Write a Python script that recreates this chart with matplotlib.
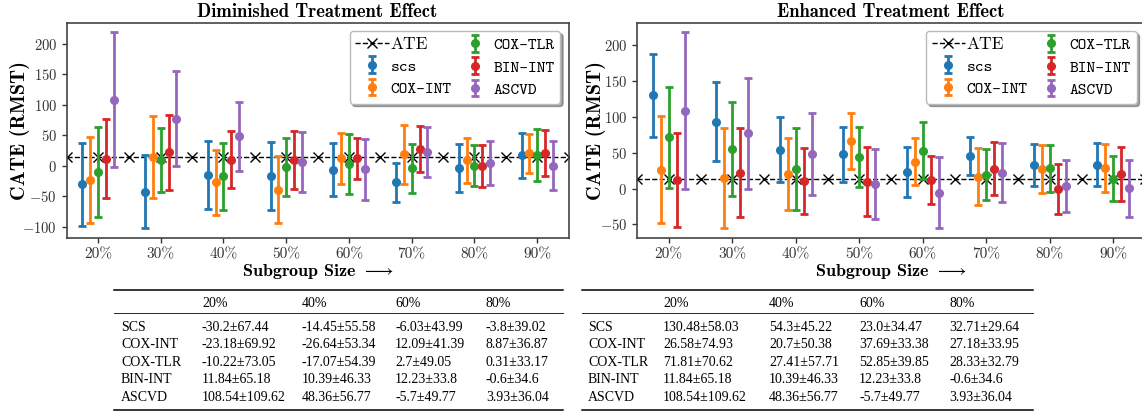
import numpy as np
import matplotlib
matplotlib.use("Agg")
import matplotlib.pyplot as plt
from matplotlib.lines import Line2D
from matplotlib.ticker import MultipleLocator

plt.rcParams['font.family'] = ['cmr10', 'DejaVu Serif']
plt.rcParams['mathtext.fontset'] = 'cm'
plt.rcParams['axes.formatter.use_mathtext'] = True
plt.rcParams['axes.unicode_minus'] = True

# ---------------- data ----------------
sizes = ['20%', '30%', '40%', '50%', '60%', '70%', '80%', '90%']
methods = ['scs', 'COX-INT', 'COX-TLR', 'BIN-INT', 'ASCVD']
table_names = ['SCS', 'COX-INT', 'COX-TLR', 'BIN-INT', 'ASCVD']
colors = ['#1f77b4', '#ff7f0e', '#2ca02c', '#d62728', '#9467bd']
ate_value = 14.0

# Diminished treatment effect
dim_scs_mean = [-30.2, -42.0, -14.45, -16.5, -6.03, -27.0, -3.8, 17.4]
dim_scs_std = [67.44, 60.0, 55.58, 55.0, 43.99, 31.5, 39.02, 36.5]
dim_coxint_mean = [-23.18, 14.0, -26.64, -39.0, 12.09, 19.0, 8.87, 20.5]
dim_coxint_std = [69.92, 67.0, 53.34, 55.0, 41.39, 48.0, 36.87, 32.0]
dim_coxtlr_mean = [-10.22, 10.0, -17.07, -2.0, 2.7, -4.0, 0.31, 17.5]
dim_coxtlr_std = [73.05, 52.0, 54.39, 48.0, 49.05, 40.5, 33.17, 42.5]
dim_binint_mean = [11.84, 22.0, 10.39, 9.5, 12.23, 28.0, -0.6, 20.5]
dim_binint_std = [65.18, 62.0, 46.33, 48.0, 33.8, 37.5, 34.6, 37.5]
dim_ascvd_mean = [108.54, 77.0, 48.36, 6.0, -5.7, 22.0, 3.93, 0.5]
dim_ascvd_std = [109.62, 78.0, 56.77, 49.0, 49.77, 41.0, 36.04, 39.7]

# Enhanced treatment effect
enh_scs_mean = [130.48, 93.5, 54.3, 48.0, 23.0, 45.5, 32.71, 33.5]
enh_scs_std = [58.03, 55.5, 45.22, 38.6, 34.47, 26.5, 29.64, 30.0]
enh_coxint_mean = [26.58, 15.0, 20.7, 66.5, 37.69, 16.5, 27.18, 29.0]
enh_coxint_std = [74.93, 70.0, 50.38, 39.0, 33.38, 39.5, 33.95, 33.5]
enh_coxtlr_mean = [71.81, 55.5, 27.41, 44.0, 52.85, 19.6, 28.33, 14.0]
enh_coxtlr_std = [70.62, 66.0, 57.71, 42.0, 39.85, 35.0, 32.79, 31.0]
enh_binint_mean = [11.84, 22.0, 10.39, 9.5, 12.23, 28.0, -0.6, 20.5]
enh_binint_std = [65.18, 62.0, 46.33, 48.0, 33.8, 37.5, 34.6, 37.5]
enh_ascvd_mean = [108.54, 77.0, 48.36, 6.0, -5.7, 22.0, 3.93, 0.5]
enh_ascvd_std = [109.62, 78.0, 56.77, 49.0, 49.77, 41.0, 36.04, 39.7]

dim_means = [dim_scs_mean, dim_coxint_mean, dim_coxtlr_mean, dim_binint_mean, dim_ascvd_mean]
dim_stds = [dim_scs_std, dim_coxint_std, dim_coxtlr_std, dim_binint_std, dim_ascvd_std]
enh_means = [enh_scs_mean, enh_coxint_mean, enh_coxtlr_mean, enh_binint_mean, enh_ascvd_mean]
enh_stds = [enh_scs_std, enh_coxint_std, enh_coxtlr_std, enh_binint_std, enh_ascvd_std]
table_cols = [0, 2, 4, 6]

# ---------------- figure ----------------
W, H = 1142, 411
fig = plt.figure(figsize=(W / 100, H / 100), dpi=100)
ax1 = fig.add_axes([66.6 / W, 173 / H, 502 / W, 215.3 / H])
ax2 = fig.add_axes([637 / W, 173 / H, 508 / W, 215.3 / H])

spine_col = '#333333'
offsets = np.linspace(-0.25, 0.25, len(methods))
x = np.arange(len(sizes))


def draw(ax, means, stds, title, ylab_x):
    ate_x = np.arange(-0.5, len(sizes), 0.5)
    ax.plot(ate_x, np.full_like(ate_x, ate_value), color='black', ls='--',
            lw=1.0, marker='x', ms=7, mew=1.0, label='ATE', zorder=1)
    for i, m in enumerate(methods):
        ax.errorbar(x + offsets[i], means[i], yerr=stds[i], fmt='o',
                    color=colors[i], ms=5.5, elinewidth=2.0, capsize=3.2,
                    capthick=2.0, label=m, zorder=3)
    ax.set_xlim(-0.5, len(sizes) - 0.5)
    ax.set_xticks(x)
    ax.set_xticklabels(sizes)
    ax.yaxis.set_major_locator(MultipleLocator(50))
    ax.tick_params(direction='out', length=3.5, width=1.0, labelsize=10.5,
                   colors=spine_col, labelcolor='#333333')
    ax.tick_params(axis='x', labelsize=11)
    for s in ax.spines.values():
        s.set_color('#444444')
        s.set_linewidth(1.2)
    ax.set_title(title, fontfamily='cmb10', fontsize=13.4, pad=4)
    ax.set_ylabel('CATE (RMST)', fontfamily='cmb10', fontsize=14.5)
    ax.yaxis.set_label_coords(ylab_x, 0.5)
    ax.set_xlabel(r'Subgroup Size $\longrightarrow$', fontfamily='cmb10',
                  fontsize=13, labelpad=0.5)
    leg = ax.legend(ncol=2, loc='upper right', shadow=True, fancybox=True,
                    prop={'family': 'cmtt10', 'size': 12}, framealpha=1,
                    edgecolor='#bbbbbb', borderpad=0.35, labelspacing=0.4,
                    columnspacing=0.4, handletextpad=0.1, handlelength=2.0,
                    borderaxespad=0.5)
    for t in leg.get_texts():
        if t.get_text() == 'ATE':
            t.set_fontfamily('cmr10')
            t.set_fontsize(12.5)


draw(ax1, dim_means, dim_stds, 'Diminished Treatment Effect', -0.072)
draw(ax2, enh_means, enh_stds, 'Enhanced Treatment Effect', -0.062)


# ---------------- tables ----------------
def fmt(v):
    return str(v)


def table(means, stds, x0, x1, label_x, col_xs):
    tf = dict(fontfamily='Liberation Serif', fontsize=10, va='center',
              ha='left', color='black')

    def fy(yp):
        return 1 - yp / H
    fig.add_artist(Line2D([x0 / W, x1 / W], [fy(289.5), fy(289.5)],
                          transform=fig.transFigure, color='black', lw=1.1))
    fig.add_artist(Line2D([x0 / W, x1 / W], [fy(313), fy(313)],
                          transform=fig.transFigure, color='black', lw=0.6))
    fig.add_artist(Line2D([x0 / W, x1 / W], [fy(409.5), fy(409.5)],
                          transform=fig.transFigure, color='black', lw=1.1))
    for cx, c in zip(col_xs, table_cols):
        fig.text(cx / W, fy(303), sizes[c], **tf)
    row_ys = [327, 344.5, 362, 379.5, 397]
    for r, name in enumerate(table_names):
        fig.text(label_x / W, fy(row_ys[r]), name, **tf)
        for cx, c in zip(col_xs, table_cols):
            fig.text(cx / W, fy(row_ys[r]),
                     f"{fmt(means[r][c])}\u00b1{fmt(stds[r][c])}", **tf)


table(dim_means, dim_stds, 114, 563, 121, [202, 302, 395, 486])
table(enh_means, enh_stds, 582, 1033, 588, [663, 769, 859, 949])

fig.savefig('out.png', dpi=100)
